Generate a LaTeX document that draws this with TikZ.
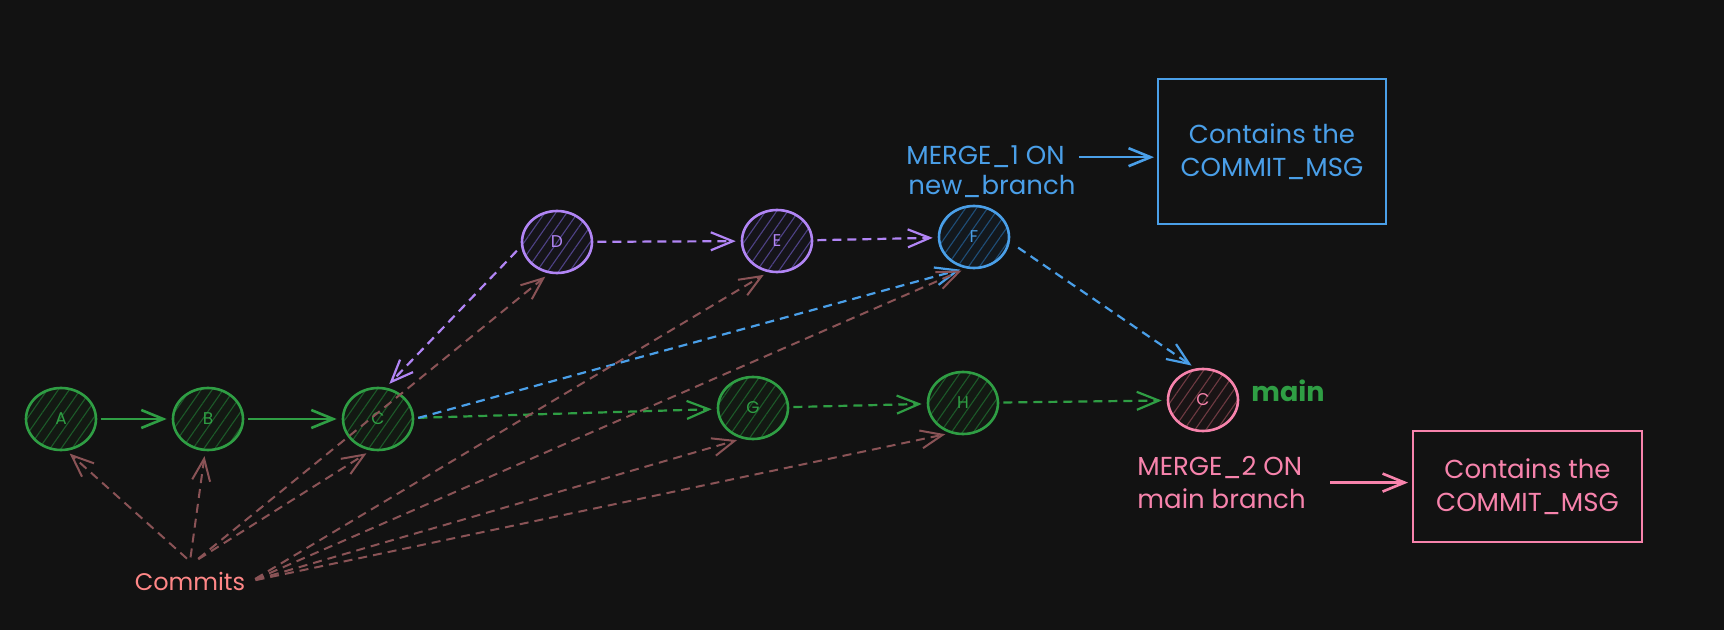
\documentclass[tikz,border=0pt]{standalone}
\usepackage{fontspec}
\setmainfont{Poppins}
\usetikzlibrary{shapes.geometric,arrows.meta,patterns.meta,calc}
\definecolor{bg}{HTML}{121212}
\definecolor{cgreen}{HTML}{2F9E44}
\definecolor{ghatch}{HTML}{1C5A29}
\definecolor{gfill}{HTML}{131913}
\definecolor{cpurple}{HTML}{B185F5}
\definecolor{phatch}{HTML}{4E4286}
\definecolor{pfill}{HTML}{151419}
\definecolor{cblue}{HTML}{4A9FE8}
\definecolor{bhatch}{HTML}{1F4E78}
\definecolor{bfill}{HTML}{13181D}
\definecolor{cpink}{HTML}{F783AC}
\definecolor{khatch}{HTML}{6E3A42}
\definecolor{kfill}{HTML}{191415}
\definecolor{cred}{HTML}{FF8787}
\definecolor{brn}{HTML}{8A5356}
\begin{document}
\begin{tikzpicture}[x=0.5pt,y=-0.5pt,
  commit/.style={ellipse, draw, line width=1.3pt, minimum width=35pt, minimum height=31pt, inner sep=0pt,
    font=\fontsize{8.5}{10}\selectfont,
    pattern={Lines[angle=55,distance=4.5pt,line width=0.55pt]}},
  gnode/.style={commit, draw=cgreen, text=cgreen, preaction={fill=gfill}, pattern color=ghatch},
  pnode/.style={commit, draw=cpurple, text=cpurple, preaction={fill=pfill}, pattern color=phatch},
  bnode/.style={commit, draw=cblue, text=cblue, preaction={fill=bfill}, pattern color=bhatch},
  knode/.style={commit, draw=cpink, text=cpink, preaction={fill=kfill}, pattern color=khatch},
  tip/.style={-{Straight Barb[length=11pt,width=9pt]}},
  solidarr/.style={tip, line width=1.3pt, shorten <=2pt, shorten >=2.5pt},
  dasharr/.style={tip, line width=1.1pt, dash pattern=on 4.5pt off 3pt, shorten <=2pt, shorten >=2.5pt},
  cmarr/.style={dasharr, draw=brn, line width=1pt},
  lbl/.style={font=\fontsize{13}{16.5}\selectfont, inner sep=0pt},
  msgbox/.style={draw, line width=1pt, align=center, inner sep=0pt, font=\fontsize{13}{16.75}\selectfont}
]
\fill[bg] (0,0) rectangle (1724,630);
\useasboundingbox (0,0) rectangle (1724,630);

% commit nodes
\node[gnode] (A) at (61,419) {A};
\node[gnode] (B) at (208,419) {B};
\node[gnode] (C) at (378,419) {C};
\node[pnode] (D) at (557,242) {D};
\node[pnode] (E) at (777,241) {E};
\node[bnode] (F) at (974,237) {F};
\node[gnode] (G) at (753,408) {G};
\node[gnode] (H) at (963,403) {H};
\node[knode] (M) at (1203,400) {C};

% branch arrows
\draw[solidarr, draw=cgreen] (A) -- (B);
\draw[solidarr, draw=cgreen] (B) -- (C);
\draw[dasharr, draw=cgreen] (C) -- (G);
\draw[dasharr, draw=cgreen] (G) -- (H);
\draw[dasharr, draw=cgreen] (H) -- (M);
\draw[dasharr, draw=cpurple] (D) -- (E);
\draw[dasharr, draw=cpurple] (E) -- (F);
\draw[dasharr, draw=cpurple, shorten <=3pt] (D.187) -- (C.76);
\draw[dasharr, draw=cblue, shorten <=5pt] (F.352) -- (M.103);
\draw[dasharr, draw=cblue] (C.east) -- (F.254);

% commits label and pointers
\node[lbl, font=\fontsize{12}{14}\selectfont, text=cred, anchor=base] (commits) at (190,590) {Commits};
\coordinate (cmL) at ($(commits.north)+(0,-10)$);
\coordinate (cmM) at ($(commits.north)+(5,-10)$);
\coordinate (cmR) at ($(commits.east)+(6,0)$);
\draw[cmarr] (cmL) -- (A.279);
\draw[cmarr] (cmL) -- (B.265);
\draw[cmarr] (cmM) -- (C.257);
\draw[cmarr] (cmM) -- (D.256);
\draw[cmarr] (cmR) -- (E.254);
\draw[cmarr] (cmR) -- (F.256);
\draw[cmarr] (cmR) -- (G.250);
\draw[cmarr] (cmR) -- (H.247);

% merge 1
\node[lbl, text=cblue, anchor=base west] (m1a) at (906,165) {MERGE\_1 ON};
\node[lbl, text=cblue, anchor=base west] (m1b) at (908,195) {new\_branch};
\node[msgbox, draw=cblue, text=cblue, minimum width=114pt, minimum height=72.5pt] (box1) at (1272,151.5) {Contains the\\COMMIT\_MSG};
\draw[solidarr, draw=cblue, shorten <=7pt, shorten >=1.5pt] (m1a.east) -- (m1a.east -| box1.west);

% main label
\node[lbl, text=cgreen, anchor=base west, font=\fontsize{13.5}{16}\selectfont\bfseries] (mainlbl) at (1251,402) {main};

% merge 2
\node[lbl, text=cpink, anchor=north west, align=left] (m2) at (1137,456) {MERGE\_2 ON\\main branch};
\node[msgbox, draw=cpink, text=cpink, minimum width=114.5pt, minimum height=55.5pt] (box2) at (1527.5,486.5) {Contains the\\COMMIT\_MSG};
\draw[solidarr, draw=cpink, shorten <=12pt, shorten >=2pt] (m2.east) -- (m2.east -| box2.west);
\end{tikzpicture}
\end{document}
